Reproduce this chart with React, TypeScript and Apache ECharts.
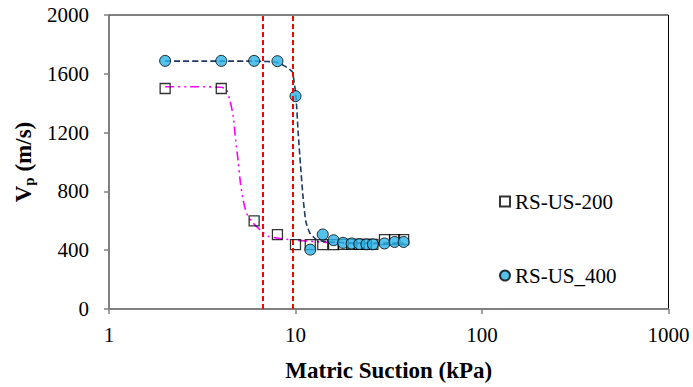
import React, { useEffect, useRef } from "react";
import * as echarts from "echarts";

// Measured data: suction (kPa), Vp (m/s)
const rs200Suction = [2, 4, 6, 8, 10, 12, 14, 16, 18, 20, 22, 24, 26, 30, 34, 38];
const rs200Vp = [1500, 1500, 600, 506, 438, 438, 438, 438, 440, 440, 440, 440, 440, 472, 472, 472];

const rs400Suction = [2, 4, 6, 8, 10, 12, 14, 16, 18, 20, 22, 24, 26, 30, 34, 38];
const rs400Vp = [1688, 1688, 1688, 1686, 1448, 404, 507, 468, 450, 446, 442, 440, 440, 446, 456, 456];

// Fitted curves
const fit400Suction = [2, 4, 6, 7, 7.9, 8.77, 9.3, 9.64, 10.05, 10.33, 10.64, 10.99, 11.36, 11.94, 12.97, 14, 16, 20, 26, 38];
const fit400Vp = [1686, 1686, 1686, 1684, 1679, 1652, 1630, 1611, 1449, 1203, 977, 753, 596, 517, 472, 462, 455, 450, 448, 448];

const fit200Suction = [2, 3, 4, 4.26, 4.45, 4.63, 4.78, 4.92, 5.07, 5.24, 5.46, 5.81, 6.18, 6.57, 7.13, 7.9, 9.7, 12, 18, 26, 28];
const fit200Vp = [1512, 1512, 1508, 1495, 1420, 1315, 1146, 1011, 854, 742, 652, 596, 562, 529, 495, 483, 470, 461, 447, 445, 444];

// Threshold suctions (vertical red dashed lines)
const thresholds = [6.7, 9.65];

const yTicks = [0, 400, 800, 1200, 1600, 2000];

const FONT = "Times New Roman";
const FONT_B = "Liberation Serif";

export default function App() {
  const ref = useRef<HTMLDivElement>(null);
  useEffect(() => {
    if (!ref.current) return;
    const chart = echarts.init(ref.current, undefined, { renderer: "svg" });
    const zip = (a: number[], b: number[]) => a.map((v, i) => [v, b[i]]);
    chart.setOption({
      animation: false,
      backgroundColor: "#fff",
      textStyle: { fontFamily: FONT },
      grid: {
        left: 109,
        right: 24.5,
        top: 15,
        bottom: 75.3,
        show: true,
        borderColor: "#000",
        borderWidth: 1,
        backgroundColor: "transparent",
      },
      legend: {
        data: ["RS-US-200", "RS-US_400"],
        orient: "vertical",
        left: 494,
        top: 186,
        itemGap: 53,
        itemWidth: 10,
        itemHeight: 10,
        textStyle: { fontFamily: FONT, fontWeight: "normal", fontSize: 21, color: "#000" },
        selectedMode: false,
      },
      xAxis: {
        type: "log",
        logBase: 10,
        min: 1,
        max: 1000,
        name: "Matric Suction (kPa)",
        nameLocation: "middle",
        nameGap: 50,
        nameTextStyle: { fontFamily: FONT_B, fontSize: 23, fontWeight: "bold", color: "#000" },
        axisLine: { show: true, lineStyle: { color: "#808080", width: 1.5 } },
        axisTick: { show: true, inside: false, length: 5, lineStyle: { color: "#808080", width: 1.5 } },
        minorTick: { show: false },
        splitLine: { show: false },
        axisLabel: {
          fontFamily: FONT,
          fontWeight: "normal",
          fontSize: 21,
          color: "#000",
          margin: 15,
          formatter: (v: number) => String(Math.round(v)),
        },
      },
      yAxis: {
        type: "value",
        min: 0,
        max: 2000,
        interval: 400,
        name: "{a|V}{b|p}{a| (m/s)}",
        nameLocation: "middle",
        nameGap: 70,
        nameRotate: 90,
        nameTextStyle: {
          rich: {
            a: { fontFamily: FONT_B, fontSize: 23, fontWeight: "bold", color: "#000" },
            b: { fontFamily: FONT_B, fontSize: 15, fontWeight: "bold", color: "#000", padding: [10, 0, 0, 0] },
          },
        },
        axisLine: { show: true, lineStyle: { color: "#808080", width: 1.5 } },
        axisTick: { show: true, inside: false, length: 5, lineStyle: { color: "#808080", width: 1.5 } },
        splitLine: { show: false },
        axisLabel: {
          fontFamily: FONT,
          fontWeight: "normal",
          fontSize: 21,
          color: "#000",
          margin: 20,
          formatter: (v: number) => (yTicks.includes(v) ? String(v) : ""),
        },
      },
      series: [
        {
          name: "fit200",
          type: "line",
          data: zip(fit200Suction, fit200Vp),
          symbol: "none",
          smooth: 0.2,
          lineStyle: { color: "#FF00FF", width: 1.6, type: [9, 4, 2, 4, 2, 4] },
          z: 2,
          markLine: {
            silent: true,
            symbol: "none",
            label: { show: false },
            lineStyle: { color: "#FF0000", width: 2, type: [5, 3] },
            data: thresholds.map((t) => ({ xAxis: t })),
          },
        },
        {
          name: "fit400",
          type: "line",
          data: zip(fit400Suction, fit400Vp),
          symbol: "none",
          smooth: 0.2,
          lineStyle: { color: "#1F3864", width: 1.6, type: [6, 3] },
          z: 2,
        },
        {
          name: "RS-US-200",
          type: "scatter",
          data: zip(rs200Suction, rs200Vp),
          symbol: "rect",
          symbolSize: 10,
          itemStyle: { color: "rgba(255,255,255,0)", borderColor: "#000", borderWidth: 1.3 },
          z: 3,
        },
        {
          name: "RS-US_400",
          type: "scatter",
          data: zip(rs400Suction, rs400Vp),
          symbol: "circle",
          symbolSize: 11,
          itemStyle: { color: "#29B3E6", borderColor: "#000", borderWidth: 1 },
          z: 4,
        },
      ],
    });
    return () => chart.dispose();
  }, []);
  return <div ref={ref} style={{ width: 693, height: 387, position: "absolute", left: 0, top: 0 }} />;
}
